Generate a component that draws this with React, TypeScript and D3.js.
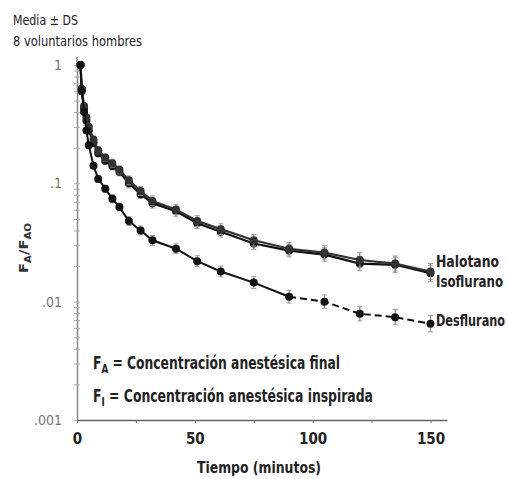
import React, { useRef, useEffect } from "react";
import * as d3 from "d3";

// minutes after stopping the anaesthetic
const times = [1.5, 2, 3, 4, 5, 7, 9, 12, 15, 18, 22, 27, 32, 42, 51, 61, 75, 90, 105, 120, 135, 150];
// F_A / F_AO
const halotano = [1.0, 0.62, 0.43, 0.34, 0.28, 0.22, 0.18, 0.155, 0.14, 0.125, 0.1, 0.081, 0.068, 0.058, 0.046, 0.039, 0.031, 0.027, 0.025, 0.021, 0.0205, 0.0174];
const isoflurano = [1.0, 0.63, 0.45, 0.36, 0.3, 0.235, 0.19, 0.165, 0.148, 0.13, 0.106, 0.086, 0.071, 0.06, 0.048, 0.041, 0.033, 0.028, 0.026, 0.0225, 0.021, 0.018];
const desflurano = [1.0, 0.6, 0.4, 0.28, 0.21, 0.141, 0.109, 0.09, 0.074, 0.063, 0.048, 0.04, 0.033, 0.028, 0.022, 0.018, 0.0145, 0.011, 0.01, 0.0079, 0.0074, 0.0065];
// +/- DS as a multiplicative factor
const errFactor = [1.03, 1.04, 1.05, 1.05, 1.06, 1.06, 1.07, 1.07, 1.08, 1.08, 1.09, 1.09, 1.1, 1.1, 1.11, 1.11, 1.12, 1.13, 1.14, 1.15, 1.16, 1.17];

const xTicks = [0, 25, 50, 75, 100, 125, 150];
const xLabels = ["0", "", "50", "", "100", "", "150"];
const yTicks = [1, 0.1, 0.01, 0.001];
const yLabels = ["1", ".1", ".01", ".001"];

const seriesNames = ["Halotano", "Isoflurano", "Desflurano"];

const FONT = "'Liberation Sans Narrow', 'DejaVu Sans Condensed', 'DejaVu Sans', sans-serif";
const W = 509,
	H = 479;

export default function App() {
	const ref = useRef<SVGSVGElement>(null);

	useEffect(() => {
		if (!ref.current) return;
		const svg = d3.select(ref.current);
		svg.selectAll("*").remove();

		const x = d3.scaleLinear().domain([0, 157]).range([77, 447]);
		const y = d3.scaleLog().domain([0.001, 1]).range([420, 65]);

		svg.append("rect").attr("width", W).attr("height", H).attr("fill", "#fff");

		// y axis: minor ticks + labels
		const yAx = svg.append("g").attr("transform", "translate(77,0)");
		yAx.call(d3.axisLeft(y).ticks(10).tickSizeInner(3).tickSizeOuter(0).tickFormat(() => ""));
		yAx.selectAll("line").attr("stroke", "#aaa").attr("x2", 3).attr("x1", -3);
		yAx.select(".domain").attr("stroke", "#888").attr("stroke-width", 1.5);
		svg.append("line")
			.attr("x1", 77).attr("x2", 77)
			.attr("y1", y(1) - 8).attr("y2", y(1))
			.attr("stroke", "#888").attr("stroke-width", 1.5);

		svg.append("g")
			.selectAll("text")
			.data(yTicks)
			.join("text")
			.attr("x", 62)
			.attr("y", (d) => y(d) + 5)
			.attr("text-anchor", "end")
			.attr("font-family", FONT)
			.attr("font-stretch", "condensed")
			.attr("font-size", 14)
			.attr("fill", "#777")
			.text((d, i) => yLabels[i]);

		// x axis
		const xAx = svg.append("g").attr("transform", "translate(0,420)");
		xAx.call(
			d3.axisBottom(x)
				.tickValues(xTicks)
				.tickSizeInner(3)
				.tickSizeOuter(0)
				.tickPadding(10)
				.tickFormat((d, i) => xLabels[i])
		);
		xAx.select(".domain").attr("stroke", "#666").attr("stroke-width", 1.5);
		xAx.selectAll("line").attr("stroke", "#777");
		xAx.selectAll("text")
			.attr("font-family", FONT)
			.attr("font-stretch", "condensed")
			.attr("font-size", 15)
			.attr("font-weight", "bold")
			.attr("fill", "#222");

		svg.append("text")
			.attr("x", 259)
			.attr("y", 473)
			.attr("text-anchor", "middle")
			.attr("font-family", FONT)
			.attr("font-size", 15)
			.attr("font-weight", "bold")
			.attr("fill", "#222")
			.attr("textLength", 124)
			.attr("lengthAdjust", "spacingAndGlyphs")
			.text("Tiempo (minutos)");

		// y axis title
		const yt = svg.append("text")
			.attr("transform", "translate(28,248) rotate(-90)")
			.attr("text-anchor", "middle")
			.attr("font-family", FONT)
			.attr("font-size", 13)
			.attr("font-weight", "bold")
			.attr("fill", "#333")
			.attr("textLength", 50)
			.attr("lengthAdjust", "spacingAndGlyphs");
		yt.append("tspan").text("F");
		yt.append("tspan").attr("font-size", 9).attr("dy", 3).text("A");
		yt.append("tspan").attr("dy", -3).text("/F");
		yt.append("tspan").attr("font-size", 9).attr("dy", 3).text("AO");

		// header
		svg.append("text")
			.attr("x", 13).attr("y", 25)
			.attr("font-family", FONT).attr("font-size", 14).attr("fill", "#222")
			.attr("textLength", 65).attr("lengthAdjust", "spacingAndGlyphs")
			.text("Media ± DS");
		svg.append("text")
			.attr("x", 13).attr("y", 46)
			.attr("font-family", FONT).attr("font-size", 14).attr("fill", "#222")
			.attr("textLength", 129).attr("lengthAdjust", "spacingAndGlyphs")
			.text("8 voluntarios hombres");

		// series
		const allSeries = [halotano, isoflurano, desflurano];
		const line = d3
			.line<number>()
			.x((d, i) => x(times[i]))
			.y((d) => y(d));

		allSeries.forEach((vals, s) => {
			const g = svg.append("g");
			// error bars
			g.selectAll("g.err")
				.data(vals)
				.join("g")
				.attr("class", "err")
				.each(function (d, i) {
					const e = d3.select(this);
					const cx = x(times[i]);
					const y0 = y(d * errFactor[i]);
					const y1 = y(d / errFactor[i]);
					e.append("line").attr("x1", cx).attr("x2", cx).attr("y1", y0).attr("y2", y1)
						.attr("stroke", "#888").attr("stroke-width", 1.2);
					[y0, y1].forEach((yy) =>
						e.append("line").attr("x1", cx - 2.5).attr("x2", cx + 2.5).attr("y1", yy).attr("y2", yy)
							.attr("stroke", "#999").attr("stroke-width", 1)
					);
				});

			if (s === 2) {
				// solid up to 90 min, dashed afterwards
				const cut = times.indexOf(90);
				g.append("path")
					.attr("d", line.defined((d, i) => i <= cut)(vals))
					.attr("fill", "none").attr("stroke", "#111").attr("stroke-width", 2);
				g.append("path")
					.attr("d", line.defined((d, i) => i >= cut)(vals))
					.attr("fill", "none").attr("stroke", "#111").attr("stroke-width", 2)
					.attr("stroke-dasharray", "7,4");
				line.defined(() => true);
			} else {
				g.append("path")
					.attr("d", line(vals))
					.attr("fill", "none")
					.attr("stroke", s === 0 ? "#111" : "#333")
					.attr("stroke-width", 2.2);
			}

			g.selectAll("circle")
				.data(vals)
				.join("circle")
				.attr("cx", (d, i) => x(times[i]))
				.attr("cy", (d) => y(d))
				.attr("r", 4)
				.attr("fill", s === 1 ? "#333" : "#111");
		});

		// dashed leader to the desflurano label
		const last = desflurano.length - 1;
		svg.append("line")
			.attr("x1", x(times[last])).attr("x2", x(times[last]) + 4)
			.attr("y1", y(desflurano[last])).attr("y2", y(desflurano[last]))
			.attr("stroke", "#111").attr("stroke-width", 2).attr("stroke-dasharray", "3,2");

		const labelY = [267, 287, 326];
		const labelW = [63, 67, 69];
		svg.append("g")
			.selectAll("text")
			.data(seriesNames)
			.join("text")
			.attr("x", 436)
			.attr("y", (d, i) => labelY[i])
			.attr("font-family", FONT)
			.attr("font-size", 15)
			.attr("font-weight", "bold")
			.attr("fill", "#222")
			.attr("textLength", (d, i) => labelW[i])
			.attr("lengthAdjust", "spacingAndGlyphs")
			.text((d) => d);

		// definitions
		const defs = [
			["A", " = Concentración anestésica final", 247],
			["I", " = Concentración anestésica inspirada", 280],
		] as const;
		defs.forEach(([sub, rest, len], i) => {
			const t = svg.append("text")
				.attr("x", 93)
				.attr("y", 369 + i * 33)
				.attr("font-family", FONT)
				.attr("font-size", 17)
				.attr("font-weight", "bold")
				.attr("fill", "#222")
				.attr("textLength", len)
				.attr("lengthAdjust", "spacingAndGlyphs");
			t.append("tspan").text("F");
			t.append("tspan").attr("font-size", 12).attr("dy", 4).text(sub);
			t.append("tspan").attr("dy", -4).text(rest);
		});
	}, []);

	return (
		<svg
			ref={ref}
			width={W}
			height={H}
			style={{ position: "absolute", left: 0, top: 0 }}
		/>
	);
}
